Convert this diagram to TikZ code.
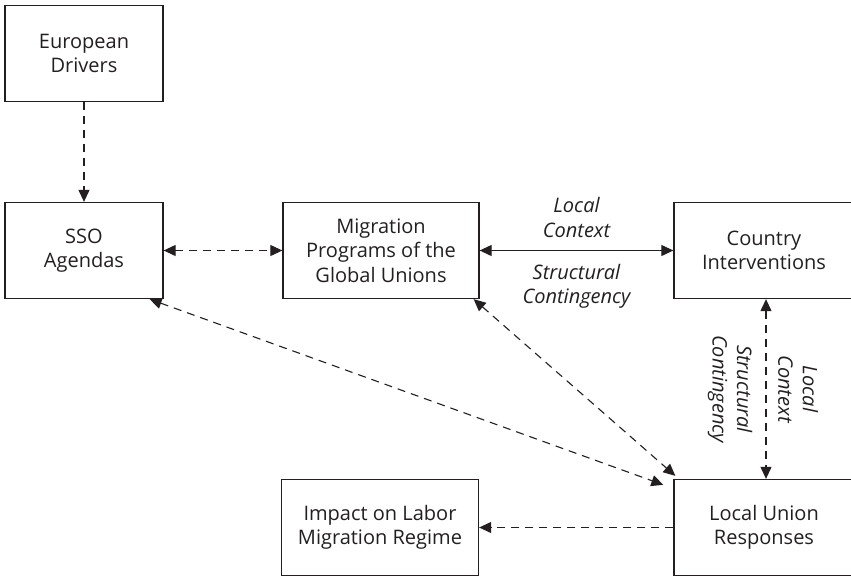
\documentclass[tikz,border=0pt]{standalone}
\usepackage{fontspec}
\setmainfont{Open Sans}
\usepackage{tikz}
\usepackage{xcolor}
\usetikzlibrary{arrows.meta,positioning,calc}
\definecolor{Ink}{HTML}{231F20}
\tikzset{
    every node/.style={font=\fontsize{20}{24.5}\selectfont, text=Ink},
    actorbox/.style={
        draw=Ink, line width=1.3pt,
        minimum height=96pt,
        align=center, sharp corners,
        inner sep=2pt
    },
    linkarrow/.style={
        {Triangle[length=12pt,width=11pt]}-{Triangle[length=12pt,width=11pt]},
        line width=1.1pt, color=Ink
    },
    dasharrow/.style={
        -{Triangle[length=12pt,width=11pt]},
        line width=1.1pt, color=Ink, dash pattern=on 8pt off 6pt
    },
    dashboth/.style={
        dasharrow, {Triangle[length=12pt,width=11pt]}-{Triangle[length=12pt,width=11pt]}
    },
    ctxlabel/.style={
        font=\fontsize{20}{24.5}\selectfont\itshape, align=center, inner sep=0pt
    },
}

\begin{document}
\begin{tikzpicture}[x=1pt,y=-1pt]
    % page frame
    \useasboundingbox (0,0) rectangle (851,576);

    % Boxes
    \node[actorbox, minimum width=158pt] (drivers) at (84,53.5) {European\\Drivers};
    \node[actorbox, minimum width=158pt] (sso) at (84,250.5) {SSO\\Agendas};
    \node[actorbox, minimum width=196pt] (programs) at (381,250.5) {Migration\\Programs of the\\Global Unions};
    \node[actorbox, minimum width=180pt] (country) at (764,250.5) {Country\\Interventions};
    \node[actorbox, minimum width=180pt] (local) at (764,527.5) {Local Union\\Responses};
    \node[actorbox, minimum width=197pt] (impact) at (380,527.5) {Impact on Labor\\Migration Regime};

    % Dashed links
    \draw[dasharrow] (drivers) -- (sso);
    \draw[dashboth] (sso) -- (programs);
    \draw[dasharrow] (local) -- (impact);
    \draw[dashboth] ([xshift=-14pt]sso.south east) -- ([xshift=-10pt,yshift=-6pt]local.north west);
    \draw[dashboth] ([xshift=-6pt]programs.south east) -- ([xshift=2pt,yshift=3pt]local.north west);

    % Local context / structural contingency
    \draw[linkarrow] (programs) --
        node[ctxlabel, midway, yshift=33pt] (ctxtop) {Local\\Context}
        node[ctxlabel, midway, yshift=-36pt] (contop) {Structural\\Contingency}
        (country);
    \draw[dashboth] ([xshift=2pt]country.south) --
        node[ctxlabel, midway, xshift=32pt, rotate=-90] (ctxside) {Local\\Context}
        node[ctxlabel, midway, xshift=-36pt, rotate=-90] (conside) {Structural\\Contingency}
        ([xshift=2pt]local.north);
\end{tikzpicture}
\end{document}
